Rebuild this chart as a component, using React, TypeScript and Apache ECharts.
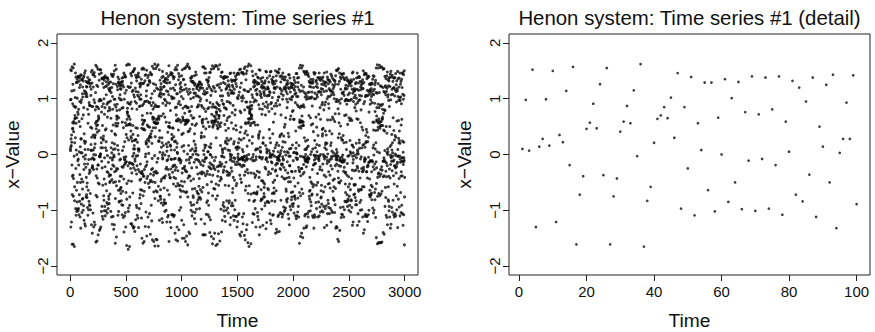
import React, { useEffect, useRef } from "react";
import * as echarts from "echarts";

// ---- texts & ticks ----
const panelTitles = ["Henon system: Time series #1", "Henon system: Time series #1 (detail)"];
const xAxisTitle = "Time";
const yAxisTitle = "x\u2212Value";
const overviewTimeTicks = [0, 500, 1000, 1500, 2000, 2500, 3000];
const detailTimeTicks = [0, 20, 40, 60, 80, 100];
const valueTicks = [-2, -1, 0, 1, 2];
const detailLength = 100;

// ---- x-values (in hundredths), time steps 1..3000, read/estimated from the plots ----
const xCenti0001to0500 = [
  // 1-100
  10,98,7,152,-130,  14,28,99,16,150,  -121,35,22,114,-19,  157,-161,-72,-39,46,
  57,91,47,126,-37,  155,-161,-75,-43,41,  59,87,56,115,-3,  162,-165,-83,-58,21,
  64,70,85,65,102,  30,146,-97,85,-25,  139,-109,56,8,129,  -64,129,-102,66,0,
  135,-85,101,-50,130,  -98,76,-11,140,-101,  72,-8,138,-97,81,  -19,140,-108,59,5,
  132,-72,120,-84,95,  -36,138,-112,50,14,  125,-50,143,-132,3,  28,93,28,142,-89,
  // 101-200
  98,-44,134,-104,64,  3,135,-80,109,-62,  121,-79,103,-49,132,  -100,71,-4,138,-92,
  84,-27,141,-118,37,  24,114,-17,146,-124,  20,9,109,-8,150,  -128,23,-1,112,-23,
  131,-76,104,-41,122,  -72,109,-58,121,-77,  104,-51,129,-95,81,  -17,138,-109,56,9,
  129,-64,128,-99,72,  -9,133,-84,93,-34,  128,-90,88,-28,134,  -92,88,-31,122,-70,
  127,-99,49,8,106,  18,117,-8,148,-126,  7,31,86,47,128,  -24,151,-141,-20,-23,
  // 201-300
  86,-6,143,-105,35,  8,121,-27,144,-130,  0,-8,98,-9,147,  -121,12,32,93,30,
  140,-126,19,35,80,  56,111,-1,160,-157,  -73,-38,46,59,86,  52,124,-26,157,-155,
  -76,-42,40,60,85,  53,122,-19,153,-144,  -51,-19,69,63,82,  66,96,43,133,-53,
  144,-136,-4,-3,99,  -3,152,-133,-4,1,  97,1,152,-130,12,  30,97,21,146,-102,
  76,-12,136,-93,86,  -24,137,-111,52,12,  127,-55,136,-116,28,  26,91,33,138,-74,
  // 301-400
  120,-82,100,-44,133,  -101,72,-6,138,-93,  84,-22,141,-110,44,  12,122,-53,138,-101,
  46,23,107,7,130,  -65,123,-86,90,-31,  137,-105,67,-2,137,  -89,93,-32,134,-97,
  78,-14,126,-75,118,  -80,94,-39,129,-88,  84,-36,114,-50,115,  -71,80,-6,119,-48,
  96,-37,130,-102,65,  12,111,-26,144,-112,  42,3,120,-45,141,  -125,21,-10,104,-6,
  81,-19,140,-111,53,  9,127,-50,144,-134,  -1,-21,99,-4,150,  -126,19,-31,89,37,
  // 401-500
  99,10,160,-159,-79,  -49,35,56,85,51,  126,-29,153,-148,-56,  -25,68,63,79,69,
  90,51,122,16,116,  -26,139,-109,56,8,  129,-64,129,-102,66,  1,135,-85,101,-48,
  124,-84,80,-10,126,  -64,107,-39,118,-61,  98,-8,129,-70,117,  -59,123,-83,98,-39,
  130,-90,83,-22,137,  -108,58,7,131,-66,  125,-91,84,-23,138,  -113,48,14,121,-44,
  146,-139,-5,-19,99,  -9,143,-110,23,-9,  110,-16,140,-104,57,  -14,139,-130,-4,-68,
];

const xCenti0501to1000 = [
  52,36,115,-13,160,  -163,-80,-52,30,63,  76,76,83,72,93,  53,122,-20,162,-170,
  -102,-96,-47,26,68,  68,91,54,120,-15,  161,-165,-91,-76,-15,  55,63,90,53,121,
  -25,145,-124,42,32,  94,29,128,-48,141,  -124,-16,-33,82,24,  113,-17,148,-128,-3,
  -69,52,36,115,-18,  149,-132,10,-24,107,  2,152,-130,16,25,  103,10,154,-138,-8,
  -12,95,26,119,-28,  142,-117,48,27,113,  -3,138,-91,92,-35,  132,-95,81,-20,139,
  -109,47,22,106,-2,  143,-114,34,10,112,  -27,146,-131,9,6,  103,10,139,-97,86,
  -31,127,-78,99,-46,  121,-72,87,-17,124,  -63,107,-44,128,-88,  99,-33,135,-114,47,
  -34,153,-150,-64,-30,  62,70,88,54,127,  -35,155,-159,-74,-39,  45,57,91,46,128,
  -39,153,-156,-66,-27,  61,61,95,44,132,  -50,142,-129,-4,-22,  95,1,143,-103,23,
  19,105,20,114,-19,  151,-146,-43,-13,74,  53,96,27,124,-39,  138,-112,50,14,125,
  -52,142,-130,2,29,  93,24,132,-59,132,  -106,49,32,93,33,  129,-49,147,-143,-35,
  -46,74,37,101,31,  144,-91,88,-27,143,  -119,42,20,109,-7,  158,-153,-49,-25,67,
  63,81,66,93,48,  127,-37,154,-156,-67,  -32,58,65,85,58,  114,-2,162,-164,-79,
  -50,32,56,89,48,  125,-30,154,-152,-65,  -33,55,62,86,56,  119,-14,158,-153,-67,
  -33,56,64,86,57,  117,-7,161,-164,-83,  -57,24,66,69,86,  63,105,24,152,-118,
  43,30,108,4,133,  -75,116,-75,111,-63,  121,-80,103,-48,127,  -87,69,13,117,-44,
  138,-115,30,21,108,  -1,149,-122,-6,-8,  92,3,140,-91,73,  16,121,-41,131,-86,
  108,-60,122,-81,99,  -42,132,-102,67,-1,  136,-88,97,-38,129,  -87,88,-26,136,-100,
  58,19,114,-23,145,  -121,6,-11,93,14,  128,-64,134,-112,40,  -9,113,-27,140,-109,
  50,22,107,-3,159,  -156,-72,-36,50,57,  92,48,129,-41,143,  -121,17,-42,79,15,
  118,-26,147,-131,8,  -8,104,-9,144,-108,  36,27,100,29,145,  -108,48,-32,102,-22,
  140,-108,47,-20,119,  -53,136,-111,32,-41,  101,-8,139,-109,23,  8,115,-19,152,-141,
  -28,-7,84,24,125,  -43,156,-153,-57,-23,  71,61,85,60,109,  13,152,-130,20,4,
  109,2,160,-155,-52,  -29,64,60,91,44,  134,-56,145,-135,-10,  -9,95,-7,140,-100,
  62,-9,126,-63,112,  -55,118,-76,89,-15,  129,-95,58,-11,121,  -66,104,-48,141,-118,
];

const xCenti1001to1500 = [
  36,14,115,-33,152,  -150,-57,-25,67,61,  83,63,100,38,134,  -66,135,-126,16,6,
  116,-24,154,-150,-49,  -21,74,61,86,54,  125,-28,155,-156,-68,  -30,58,61,87,55,
  118,-10,158,-146,-67,  -31,59,62,84,58,  113,1,162,-162,-76,  -42,41,60,84,61,
  108,16,157,-139,-38,  -9,77,42,117,-15,  154,-142,-39,-5,78,  46,111,7,137,-86,
  100,-47,132,-100,70,  -5,137,-91,86,-24,  140,-110,54,10,130,  -62,130,-103,65,0,
  131,-74,117,-77,102,  -44,128,-90,66,24,  110,-14,141,-115,37,  6,124,-61,127,-104,
  52,18,110,-9,148,  -124,12,7,105,1,  143,-98,55,-23,118,  -66,121,-86,85,-9,
  122,-69,105,-35,124,  -81,86,-1,126,-71,  89,-11,125,-57,115,  -77,103,-43,130,-97,
  68,-14,130,-77,96,  -33,120,-63,119,-80,  100,-18,127,-116,33,  30,88,39,125,-35,
  -67,-31,59,62,85,  56,119,-11,157,-144,  -59,-20,63,50,109,  7,157,-144,-33,0,
  82,32,114,-13,146,  -124,17,12,108,-8,  154,-144,-38,-6,77,  46,110,16,146,-107,
  64,-6,134,-86,97,  -35,118,-54,111,-30,  133,-83,82,5,129,  -108,58,5,132,-69,
  124,-91,84,-22,138,  -112,50,14,121,-36,  147,-140,-15,-24,93,  0,147,-117,-1,12,
  106,19,117,-26,153,  -147,-49,-18,72,60,  85,57,114,-5,159,  -160,-74,-37,49,60,
  90,52,122,-20,154,  -151,-61,-24,69,59,  85,55,119,-11,157,  -141,-62,-27,67,61,
  85,59,113,-5,160,  -163,-80,-53,30,63,  76,76,83,72,93,  52,124,-22,158,-161,
  -74,-39,46,58,90,  48,125,-30,153,-142,  -55,-21,70,65,81,  69,88,54,120,-19,
  161,-155,-47,-14,78,  50,105,16,127,-41,  140,-98,57,-21,115,  -44,147,-139,-3,-17,
  97,-3,148,-118,10,  7,105,3,138,-91,  91,-32,129,-86,90,  -28,136,-101,70,-5,
  138,-94,84,-22,140,  -111,54,11,127,-55,  138,-120,21,24,83,  43,117,-14,139,-100,
  81,-30,119,-83,61,  29,95,19,123,-37,  139,-96,66,8,110,  -32,132,-105,47,25,
  106,-56,125,-87,94,  -37,122,-83,68,7,  116,-34,145,-126,1,  -10,92,-3,146,-113,
  28,-7,110,-24,134,  -92,57,-1,114,-30,  131,-87,75,-12,124,  -68,110,-61,121,-92,
  88,-41,133,-110,46,  19,110,-6,146,-118,  23,-13,117,-46,132,  -99,71,-7,133,-82,
  80,-18,140,-111,52,  12,127,-56,135,-111,  44,13,122,-52,143,  -130,9,-18,102,-13,
];

const xCenti1501to2000 = [
  145,-120,14,-4,100,  1,146,-108,21,-8,  106,-9,144,-106,28,  12,112,-17,152,-143,
  -37,-8,78,40,120,  -19,153,-146,-44,-8,  75,49,102,26,128,  -50,147,-139,-6,-22,
  96,-5,146,-112,9,  -7,105,-10,147,-124,  5,-19,101,-9,144,  -106,29,-4,116,-20,
  154,-145,-37,-3,80,  38,115,-12,157,-153,  -64,-31,57,55,94,  42,134,-57,145,-135,
  -7,-10,94,-2,150,  -126,15,-27,85,35,  113,-8,158,-158,-70,  -33,56,64,84,58,
  113,0,162,-165,-82,  -56,25,63,74,77,  79,82,74,87,65,  94,52,117,-8,159,
  -160,-71,-33,56,71,  68,82,70,88,64,  107,20,149,-122,32,  -5,102,-11,141,-106,
  57,0,130,-69,121,  -84,94,-34,133,-107,  58,-11,128,-69,123,  -82,98,-41,132,-97,
  53,8,115,-37,144,  -130,-9,-4,96,10,  130,-71,109,-70,117,  -67,107,-30,126,-104,
  139,-111,53,10,128,  -58,137,-117,33,29,  89,36,127,-41,152,  -144,-32,-4,82,41,
  113,-6,151,-130,13,  6,106,4,136,-83,  109,-63,121,-80,102,  -47,131,-98,72,-8,
  124,-80,81,-5,119,  -47,138,-127,21,20,  91,30,128,-50,121,  -76,113,-70,110,-59,
  120,-76,106,-53,128,  -92,86,-23,132,-87,  71,16,117,-26,149,  -133,-9,-8,94,-6,
  148,-122,10,3,105,  6,137,-84,84,-13,  121,-61,118,-85,89,  -36,118,-63,106,-31,
  130,-86,77,7,106,  45,113,-5,141,-106,  29,2,111,-2,148,  -118,21,-34,91,-2,
  149,-124,-5,-13,93,  -1,135,-83,82,-15,  129,-70,102,-26,132,  -109,37,0,126,-50,
  139,-108,58,6,131,  -68,111,-60,119,-70,  87,-3,120,-46,127,  -84,73,12,118,-30,
  150,-141,-19,-28,92,  17,132,-65,141,-134,  -16,-5,87,21,121,  -38,148,-139,-10,-16,
  97,-5,148,-111,5,  -6,103,-9,146,-108,  16,-9,103,-3,153,  -138,-11,-2,89,32,
  119,-25,140,-104,35,  2,117,-27,130,-82,  71,7,109,-17,141,  -106,37,-19,114,-40,
  136,-112,13,-17,99,  -4,146,-107,23,-8,  106,-10,139,-94,33,  -23,118,-43,134,-102,
  49,5,121,-44,134,  -100,54,22,117,-28,  139,-96,66,-1,119,  -62,113,-66,124,-81,
  99,-42,127,-85,84,  5,109,-13,132,-79,  94,-33,127,-107,38,  3,120,-49,143,-115,
  32,-3,118,-41,143,  -126,10,-20,100,-20,  137,-93,63,-3,112,  -49,128,-99,69,11,
  120,-68,123,-81,98,  -30,120,-76,103,-31,  127,-89,77,17,104,  -67,125,-93,79,-11,
];

const xCenti2001to2500 = [
  126,-88,63,3,118,  -42,138,-105,63,4,  133,-76,115,-74,108,  -57,122,-80,93,-30,
  129,-110,42,11,110,  -6,145,-115,21,3,  104,2,145,-110,1,  -9,89,-7,137,-103,
  121,-78,104,-51,129,  -93,86,-23,138,-112,  49,16,116,-28,155,  -159,-68,-31,58,62,
  84,58,113,-3,160,  -147,-74,-38,47,59,  87,51,124,-25,155,  -141,-62,-25,69,60,
  86,58,114,-4,159,  -149,-70,-35,52,58,  89,52,121,-18,149,  -132,-5,-32,85,30,
  111,-5,147,-110,9,  -9,103,-11,144,-107,  24,0,108,-13,148,  -131,9,-22,99,-8,
  149,-128,12,-8,104,  -13,143,-106,26,-4,  111,-14,145,-112,15,  -9,100,-8,140,-102,
  70,-7,131,-75,112,  -66,122,-80,102,-41,  129,-64,128,-101,66,  0,135,-85,101,-49,
  121,-92,53,5,128,  -73,103,-52,112,-71,  87,-27,131,-110,55,  10,128,-58,135,-113,
  41,-19,120,-54,147,  -132,-1,-18,100,-10,  144,-108,25,-3,110,  -16,146,-112,12,-16,
  100,-7,131,-86,67,  -2,122,-55,133,-97,  49,18,107,5,127,  -72,103,-34,120,-50,
  138,-112,34,-3,112,  -8,137,-85,72,-7,  113,-11,146,-110,16,  -3,112,-27,134,-94,
  84,-22,138,-103,63,  0,133,-78,112,-65,  118,-76,107,-55,126,  -89,89,-28,136,-101,
  45,33,93,37,117,  -17,139,-103,47,0,  131,-67,125,-93,80,  -4,113,-37,146,-131,
  -8,-3,89,12,128,  -58,129,-97,42,18,  94,21,123,-40,130,  -92,35,9,114,-5,
  148,-127,20,-16,100,  -11,139,-106,62,1,  135,-82,104,-53,127,  -88,91,-31,133,-95,
  83,-13,118,-52,133,  -106,42,-9,104,-37,  115,-60,130,-97,62,  16,114,-20,144,-121,
  21,-4,107,-8,141,  -101,37,6,113,-26,  137,-104,67,-3,125,  -66,111,-46,118,-78,
  63,3,134,-81,107,  -58,122,-82,100,-44,  133,-104,59,-2,131,  -90,73,-20,126,-61,
  141,-132,-4,-9,95,  1,151,-129,9,-17,  99,-7,150,-131,4,  -10,95,-3,152,-152,
  -30,-3,82,30,126,  -42,154,-156,-50,-20,  73,57,97,37,131,  -51,146,-136,-11,-10,
  92,-6,139,-95,51,  -21,117,-47,136,-113,  30,-12,100,-12,144,  -107,26,-5,110,-14,
  144,-108,26,-1,110,  -9,139,-94,34,-13,  112,-30,145,-112,21,  -13,106,-23,136,-99,
  70,-10,134,-84,96,  -33,117,-53,119,-68,  98,-32,124,-84,71,  22,99,9,138,-85,
  90,-37,118,-72,97,  -16,132,-93,54,-3,  134,-80,107,-58,123,  -83,97,-40,131,-100,
];

const xCenti2501to3000 = [
  66,-2,128,-75,110,  -53,127,-91,61,25,  97,5,129,-63,130,  -103,64,2,134,-81,
  123,-83,99,-43,131,  -95,61,17,117,-28,  146,-127,16,-3,110,  -15,148,-121,3,-9,
  95,13,135,-72,114,  -54,102,-29,118,-55,  114,-71,84,-2,116,  -77,106,-54,127,-90,
  90,-28,129,-83,78,  20,101,-6,137,-90,  64,1,117,-21,146,  -127,8,-24,93,5,
  138,-106,63,1,128,  -63,115,-66,97,-30,  140,-120,26,21,106,  11,138,-86,98,-42,
  131,-100,57,-8,121,  -63,116,-82,80,-4,  125,-63,105,-25,130,  -99,49,12,119,-31,
  127,-58,134,-112,44,  17,118,-30,150,-141,  -23,-27,91,18,129,  -58,143,-135,-10,-13,
  95,-6,146,-110,13,  -8,104,-9,144,-107,  34,21,106,23,145,  -111,45,-31,105,-31,
  136,-111,40,-22,115,  -42,141,-120,23,-19,  106,-21,138,-108,31,  -5,113,-14,140,-100,
  76,-14,126,-72,108,  -44,114,-64,116,-76,  90,-11,127,-73,98,  -12,125,-72,112,-55,
  118,-69,104,-31,128,  -81,93,-11,127,-58,  108,-13,135,-96,58,  12,114,-22,141,-105,
  44,17,107,-1,140,  -100,58,-27,117,-68,  92,-17,125,-81,77,  10,129,-62,133,-113,
  43,21,111,-13,155,  -149,-52,-24,69,62,  84,60,110,5,161,  -160,-75,-41,44,58,
  90,49,127,-35,155,  -158,-70,-33,56,64,  84,59,111,3,160,  -158,-74,-39,47,58,
  89,51,123,-27,156,  -158,-71,-35,52,59,  88,52,122,-22,157,  -157,-66,-28,64,63,
  81,67,90,52,120,  -12,153,-140,-40,-12,  74,44,113,-6,154,  -143,-38,-10,80,42,
  111,7,140,-93,79,  -13,123,-59,121,-77,  107,-30,136,-109,50,  -15,113,-40,141,-113,
  38,3,119,-20,148,  -126,10,0,103,5,  134,-81,107,-58,123,  -84,97,-39,132,-101,
  137,-93,86,-26,138,  -112,50,14,122,-42,  144,-132,-1,-18,98,  -4,149,-125,17,-6,
  107,-12,139,-95,36,  8,117,-29,142,-103,  21,3,108,-3,131,  -82,66,-12,119,-38,
  137,-108,43,-10,120,  -53,137,-112,26,-20,  105,-21,138,-106,34,  1,116,-24,145,-110,
  31,-2,113,-33,125,  -74,94,-22,132,-99,  60,-17,118,-57,114,  -14,149,-131,9,-3,
  104,-3,136,-80,61,  29,97,21,121,-43,  137,-94,42,25,102,  -3,146,-110,20,-8,
  97,-14,126,-68,103,  -39,131,-104,53,-31,  91,-12,135,-91,63,  -6,120,-38,145,-106,
  24,-6,108,-12,147,  -127,4,-18,99,-13,  143,-108,22,-6,106,  -11,150,-162,-76,-41,
];

const xValueCenti = [
  ...xCenti0001to0500,
  ...xCenti0501to1000,
  ...xCenti1001to1500,
  ...xCenti1501to2000,
  ...xCenti2001to2500,
  ...xCenti2501to3000,
];

const FONT = "'Liberation Sans', Arial, Helvetica, sans-serif";
const TEXT = "#111";
const minusFmt = (v: number) => (v < 0 ? "\u2212" + Math.abs(v) : String(v));

// plot boxes
const BOX_TOP = 34;
const BOX_H = 241;
const BOX_W = 361;
const LEFT_BOXES = [57, 509];

export default function App() {
  const ref = useRef<HTMLDivElement>(null);

  useEffect(() => {
    if (!ref.current) return;
    const chart = echarts.init(ref.current, undefined, { renderer: "svg" });

    const points = xValueCenti.map((c, i) => [i + 1, c / 100]);
    const detailPoints = points.slice(0, detailLength);

    const n = xValueCenti.length;
    const pad0 = (n - 1) * 0.04;
    const pad1 = (detailLength - 1) * 0.04;

    const xAxisBase = (ticks: number[], min: number, max: number, gridIndex: number) => ({
      type: "value",
      gridIndex,
      min,
      max,
      axisLine: { show: false, onZero: false },
      splitLine: { show: false },
      axisTick: {
        show: true,
        customValues: ticks,
        length: 6,
        lineStyle: { color: "#222", width: 1 },
      },
      axisLabel: {
        show: true,
        customValues: ticks,
        formatter: minusFmt,
        color: TEXT,
        fontSize: 15,
        fontFamily: FONT,
        margin: 9,
      },
    });

    const yAxisBase = (gridIndex: number) => ({
      type: "value",
      gridIndex,
      min: -2.16,
      max: 2.16,
      axisLine: { show: false, onZero: false },
      splitLine: { show: false },
      axisTick: {
        show: true,
        customValues: valueTicks,
        length: 6,
        lineStyle: { color: "#222", width: 1 },
      },
      // tick labels are drawn rotated (see below), positioned through the axis scale
      axisLabel: { show: false },
    });

    const graphics: any[] = [];
    LEFT_BOXES.forEach((left, i) => {
      const cx = left + BOX_W / 2;
      graphics.push({
        type: "text",
        x: cx,
        y: 18,
        style: {
          text: panelTitles[i],
          fill: TEXT,
          fontSize: 20.4,
          fontFamily: FONT,
          textAlign: "center",
          textVerticalAlign: "middle",
        },
      });
      graphics.push({
        type: "text",
        x: cx,
        y: 320,
        style: {
          text: xAxisTitle,
          fill: TEXT,
          fontSize: 19.2,
          fontFamily: FONT,
          textAlign: "center",
          textVerticalAlign: "middle",
        },
      });
      graphics.push({
        type: "text",
        x: left - 45,
        y: BOX_TOP + BOX_H / 2,
        rotation: Math.PI / 2,
        style: {
          text: yAxisTitle,
          fill: TEXT,
          fontSize: 19.2,
          fontFamily: FONT,
          textAlign: "center",
          textVerticalAlign: "middle",
        },
      });
    });

    chart.setOption({
      animation: false,
      backgroundColor: "#fff",
      grid: LEFT_BOXES.map((left) => ({
        left,
        top: BOX_TOP,
        width: BOX_W,
        height: BOX_H,
        show: true,
        borderColor: "#222",
        borderWidth: 1,
        backgroundColor: "transparent",
        containLabel: false,
      })),
      xAxis: [
        xAxisBase(overviewTimeTicks, 1 - pad0, n + pad0, 0),
        xAxisBase(detailTimeTicks, 1 - pad1, detailLength + pad1, 1),
      ],
      yAxis: [yAxisBase(0), yAxisBase(1)],
      series: [
        {
          type: "scatter",
          xAxisIndex: 0,
          yAxisIndex: 0,
          data: points,
          symbol: "circle",
          symbolSize: 3,
          itemStyle: { color: "#0d0d0d" },
          silent: true,
        },
        {
          type: "scatter",
          xAxisIndex: 1,
          yAxisIndex: 1,
          data: detailPoints,
          symbol: "circle",
          symbolSize: 2.7,
          itemStyle: { color: "#0d0d0d" },
          silent: true,
        },
      ],
      graphic: graphics,
    });

    // rotated y tick labels (R style), placed with the axis scale
    const yLabels: any[] = [];
    LEFT_BOXES.forEach((left, i) => {
      valueTicks.forEach((v) => {
        const py = chart.convertToPixel({ yAxisIndex: i } as any, v) as number;
        yLabels.push({
          type: "text",
          x: left - 14.5,
          y: py,
          rotation: Math.PI / 2,
          style: {
            text: minusFmt(v),
            fill: TEXT,
            fontSize: 15,
            fontFamily: FONT,
            textAlign: "center",
            textVerticalAlign: "middle",
          },
        });
      });
    });
    chart.setOption({ graphic: [...graphics, ...yLabels] });

    return () => chart.dispose();
  }, []);

  return (
    <div
      ref={ref}
      style={{ position: "absolute", left: 0, top: 0, width: 875, height: 332, background: "#fff" }}
    />
  );
}
